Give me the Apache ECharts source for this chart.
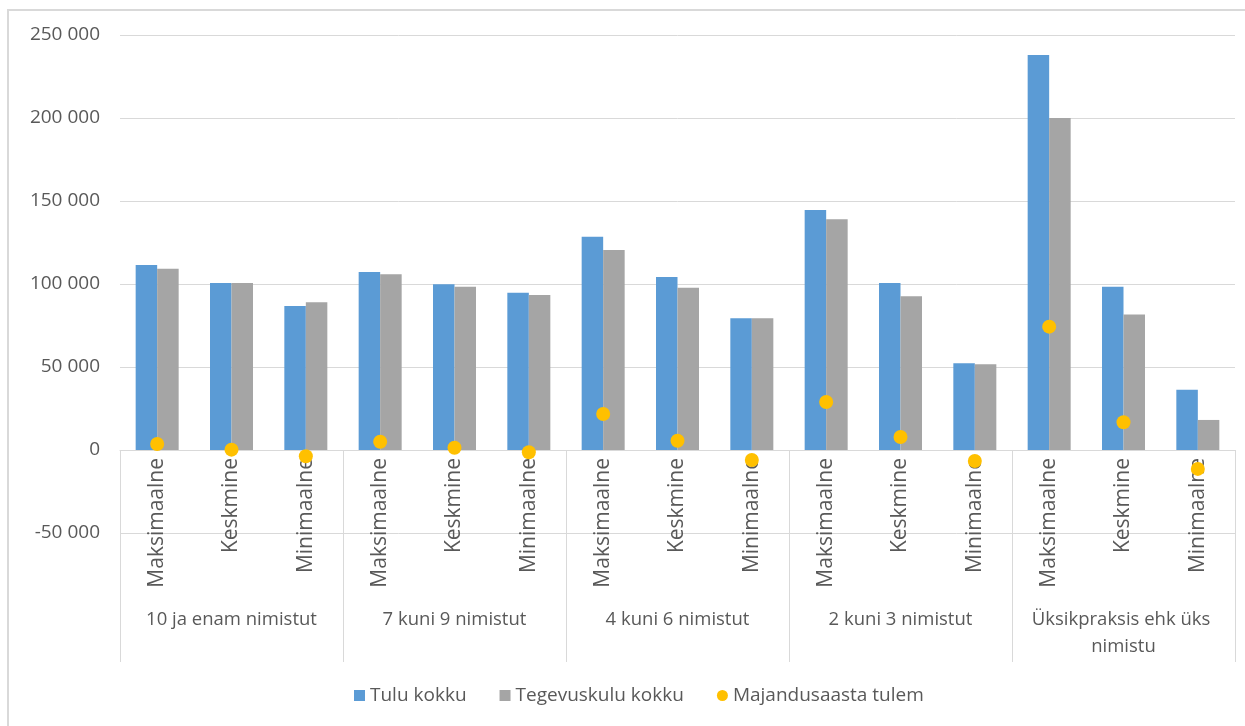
<!DOCTYPE html>
<html lang="et">
<head>
<meta charset="utf-8">
<title>Tulu, tegevuskulu ja majandusaasta tulem</title>
<script src="https://cdn.jsdelivr.net/npm/echarts@6/dist/echarts.min.js"></script>
<style>
  html, body { margin: 0; padding: 0; background: #ffffff; }
  #wrap { position: relative; width: 1245px; height: 726px; overflow: hidden; }
  #frame { position: absolute; left: 7px; top: 9px; width: 1300px; height: 800px;
           border-left: 2px solid #d9d9d9; border-top: 2px solid #d9d9d9; box-sizing: border-box; }
  #chart { position: absolute; left: 0; top: 0; width: 1245px; height: 726px; }
</style>
</head>
<body>
<div id="wrap">
  <div id="frame"></div>
  <div id="chart"></div>
</div>
<script>
// Practice-size groups and the statistic shown for each
const groups = ['10 ja enam nimistut', '7 kuni 9 nimistut', '4 kuni 6 nimistut', '2 kuni 3 nimistut', 'Üksikpraksis ehk üks nimistu'];
const stats = ['Maksimaalne', 'Keskmine', 'Minimaalne'];

// Values per category (group × statistic), in euros
const tuluKokku = [111500, 100600, 86700, 107200, 99800, 94800, 128500, 104200, 79300, 144600, 100600, 52200, 237900, 98400, 36300];
const tegevuskuluKokku = [109200, 100600, 89000, 105800, 98400, 93400, 120500, 97800, 79300, 139000, 92600, 51600, 200000, 81700, 18100];
const majandusaastaTulem = [3600, 200, -3800, 5000, 1400, -1400, 21700, 5600, -6000, 28900, 7800, -6600, 74300, 16700, -11400];

const seriesNames = ['Tulu kokku', 'Tegevuskulu kokku', 'Majandusaasta tulem'];

// Value axis range
const yMin = -50000;
const yMax = 250000;
const yStep = 50000;

// Inner axis categories: one per statistic within each group
const categories = [];
groups.forEach(function () { stats.forEach(function (s) { categories.push(s); }); });

const FONT = '"Open Sans", "Noto Sans", sans-serif';
const TEXT = '#595959';
const LINE = '#d9d9d9';

// Plot box
const GRID_TOP = 35;
const GRID_BOTTOM = 193;
const CHART_H = 726;
const plotH = CHART_H - GRID_TOP - GRID_BOTTOM;
// Distance from the bottom of the plot up to the zero line
const zeroLift = plotH * (0 - yMin) / (yMax - yMin);

function fmt(v) {
  const s = String(Math.abs(v)).replace(/\B(?=(\d{3})+(?!\d))/g, ' ');
  return (v < 0 ? '-' : '') + s;
}

const chart = echarts.init(document.getElementById('chart'), null, { renderer: 'canvas' });

chart.setOption({
  animation: false,
  backgroundColor: 'transparent',
  textStyle: { fontFamily: FONT },
  grid: { left: 120, right: 10, top: GRID_TOP, bottom: GRID_BOTTOM, containLabel: false },
  legend: {
    data: [
      { name: seriesNames[0], icon: 'rect' },
      { name: seriesNames[1], icon: 'rect' },
      { name: seriesNames[2], icon: 'circle' }
    ],
    left: 349,
    top: 681,
    itemWidth: 11,
    itemHeight: 11,
    itemGap: 33,
    textStyle: { color: TEXT, fontSize: 19, fontFamily: FONT }
  },
  xAxis: [
    {
      // statistic labels, sitting on the zero line
      type: 'category',
      data: categories,
      position: 'bottom',
      offset: -zeroLift,
      axisLine: { onZero: false, lineStyle: { color: LINE, width: 1 } },
      axisTick: {
        show: true,
        length: 212,
        interval: function (i) { return i % 3 === 0; },
        lineStyle: { color: LINE, width: 1 }
      },
      axisLabel: {
        interval: 0,
        rotate: 90,
        margin: 8,
        color: TEXT,
        fontSize: 21,
        fontFamily: FONT
      },
      splitLine: { show: false }
    },
    {
      // group labels
      type: 'category',
      data: groups,
      position: 'bottom',
      axisLine: { show: false, onZero: false },
      axisTick: { show: false },
      axisLabel: {
        interval: 0,
        margin: 73,
        color: TEXT,
        fontSize: 18.5,
        lineHeight: 27,
        fontFamily: FONT,
        width: 205,
        overflow: 'break',
        align: 'center'
      },
      splitLine: { show: false }
    }
  ],
  yAxis: {
    type: 'value',
    min: yMin,
    max: yMax,
    interval: yStep,
    axisLine: { show: false },
    axisTick: { show: false },
    axisLabel: {
      color: TEXT,
      fontSize: 19,
      fontFamily: FONT,
      margin: 20,
      formatter: fmt
    },
    splitLine: { lineStyle: { color: LINE, width: 1 } }
  },
  series: [
    {
      name: seriesNames[0],
      type: 'bar',
      xAxisIndex: 0,
      data: tuluKokku,
      barWidth: 21.5,
      barGap: '0%',
      itemStyle: { color: '#5b9bd5' }
    },
    {
      name: seriesNames[1],
      type: 'bar',
      xAxisIndex: 0,
      data: tegevuskuluKokku,
      barWidth: 21.5,
      barGap: '0%',
      itemStyle: { color: '#a5a5a5' }
    },
    {
      // result markers sit above the axis labels
      name: seriesNames[2],
      type: 'scatter',
      xAxisIndex: 0,
      data: majandusaastaTulem,
      symbol: 'circle',
      symbolSize: 14,
      itemStyle: { color: '#ffc000', opacity: 1 },
      zlevel: 1,
      z: 10
    }
  ]
});
</script>
</body>
</html>
